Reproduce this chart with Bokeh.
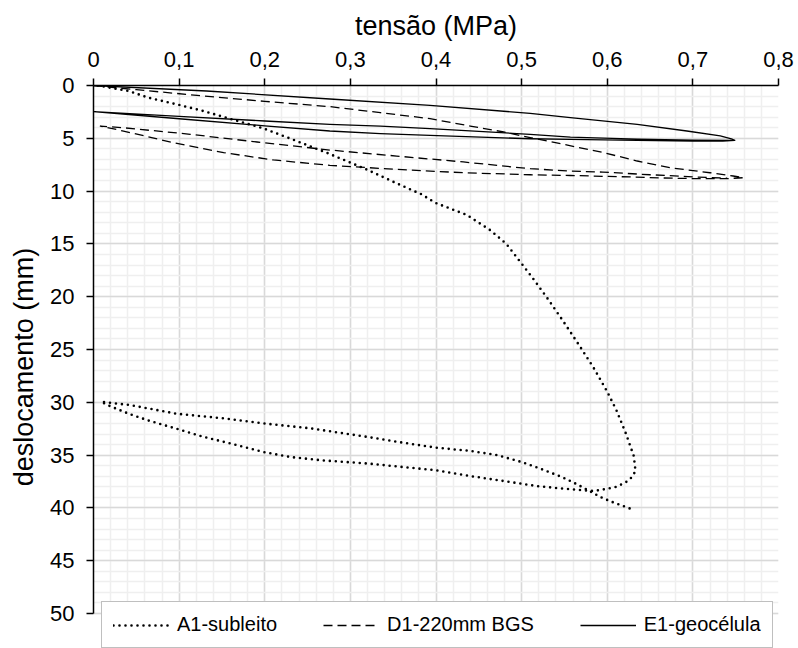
from bokeh.plotting import figure
from bokeh.models import (Range1d, SingleIntervalTicker, CustomJSTickFormatter,
                          Legend, LegendItem)
from bokeh.embed import file_html
from bokeh.resources import INLINE

# ---------------- data (tensão MPa, deslocamento mm) ----------------
a1_x = [0.005, 0.041, 0.064, 0.097, 0.128, 0.159, 0.198, 0.230, 0.274, 0.317,
        0.354, 0.383, 0.399, 0.436, 0.463, 0.482, 0.497, 0.512, 0.531, 0.549,
        0.567, 0.584, 0.600, 0.611, 0.622, 0.631, 0.633, 0.629, 0.623, 0.611,
        0.596, 0.584,
        0.549, 0.518, 0.479, 0.440, 0.401, 0.362, 0.321, 0.268, 0.230, 0.198,
        0.167, 0.128, 0.097, 0.066, 0.043, 0.019, 0.009,
        0.043, 0.097, 0.152, 0.198, 0.253, 0.321, 0.362, 0.401, 0.440, 0.471,
        0.500, 0.524, 0.547, 0.565, 0.578, 0.592, 0.603, 0.627]
a1_y = [0.0, 0.52, 1.15, 1.78, 2.41, 3.14, 4.05, 5.03, 6.42, 7.88,
        9.26, 10.3, 11.1, 12.26, 13.68, 14.98, 16.55, 18.13, 20.25, 22.37,
        24.57, 26.72, 29.0, 30.8, 33.0, 35.09, 36.5, 37.07, 37.5, 38.0,
        38.24, 38.4,
        38.18, 37.93, 37.45, 36.98, 36.44, 36.13, 35.8, 35.5, 35.18, 34.7,
        34.04, 33.26, 32.5, 31.77, 31.14, 30.35, 29.95,
        30.26, 31.08, 31.52, 31.99, 32.46, 33.29, 33.83, 34.3, 34.6, 34.99,
        35.65, 36.35, 37.07, 37.77, 38.34, 38.97, 39.35, 40.07]

d1_x = [0.0, 0.05, 0.13, 0.20, 0.276, 0.335, 0.393, 0.440, 0.479, 0.510,
        0.549, 0.596, 0.635, 0.673, 0.720, 0.747, 0.759,
        0.740, 0.705, 0.666, 0.627, 0.557, 0.510, 0.432, 0.354, 0.276,
        0.210, 0.152, 0.093, 0.035, 0.008,
        0.035, 0.113, 0.191, 0.276, 0.354, 0.432, 0.510, 0.557, 0.595,
        0.650, 0.700, 0.740]
d1_y = [0.0, 0.4, 1.0, 1.5, 2.0, 2.57, 3.14, 3.84, 4.4, 4.94,
        5.57, 6.36, 7.15, 7.78, 8.26, 8.57, 8.73,
        8.82, 8.82, 8.76, 8.66, 8.52, 8.45, 8.26, 7.94, 7.56,
        7.05, 6.36, 5.41, 4.31, 3.84,
        4.0, 4.62, 5.35, 6.11, 6.68, 7.24, 7.88, 8.1, 8.2,
        8.45, 8.65, 8.78]

e1_x = [0.0, 0.132, 0.276, 0.393, 0.510, 0.557, 0.635, 0.693, 0.732, 0.745,
        0.749,
        0.735, 0.700, 0.635, 0.557, 0.510, 0.393, 0.335, 0.276, 0.200,
        0.100, 0.0,
        0.100, 0.200, 0.276, 0.335, 0.393, 0.510, 0.557, 0.635, 0.700, 0.745]
e1_y = [0.0, 0.52, 1.28, 1.88, 2.64, 3.05, 3.68, 4.31, 4.78, 5.05,
        5.19,
        5.26, 5.26, 5.20, 5.10, 5.04, 4.72, 4.55, 4.31, 3.82,
        3.15, 2.48,
        2.92, 3.36, 3.68, 3.85, 4.09, 4.62, 4.88, 5.08, 5.18, 5.20]

labels = ["A1-subleito", "D1-220mm BGS", "E1-geocélula"]

FONT = "Liberation Sans"

# y range runs a little past 50 so the legend (which overlaps the bottom
# edge of the chart) is not clipped; axis and grid stop at 50.
p = figure(width=798, height=648, x_axis_location="above",
           output_backend="svg", toolbar_location=None,
           x_range=Range1d(0, 0.8), y_range=Range1d(53.31, 0),
           min_border_left=93, min_border_right=20,
           min_border_top=85, min_border_bottom=0)
p.outline_line_color = None
p.background_fill_color = "white"

p.xaxis.ticker = SingleIntervalTicker(interval=0.1, num_minor_ticks=5)
p.yaxis.ticker = SingleIntervalTicker(interval=5, num_minor_ticks=5)
p.xaxis.formatter = CustomJSTickFormatter(code="""
    if (Math.abs(tick) < 1e-9) { return '0'; }
    return tick.toFixed(1).replace('.', ',');
""")
p.yaxis.formatter = CustomJSTickFormatter(code="return tick.toFixed(0);")
p.yaxis.bounds = (0, 50)
p.xaxis.bounds = (0, 0.8)

for ax in (p.xaxis[0], p.yaxis[0]):
    ax.axis_line_color = "black"
    ax.axis_line_width = 1.5
    ax.major_tick_line_color = "black"
    ax.major_tick_line_width = 1.5
    ax.major_tick_out = 7
    ax.major_tick_in = 0
    ax.minor_tick_line_color = None
    ax.major_label_text_font = FONT
    ax.major_label_text_font_size = "22px"
    ax.major_label_text_color = "black"
    ax.major_label_standoff = 12
    ax.axis_label_text_font = FONT
    ax.axis_label_text_font_size = "27px"
    ax.axis_label_text_font_style = "normal"
    ax.axis_label_text_color = "black"
    ax.axis_label_standoff = 8

p.xaxis.axis_label = "tensão (MPa)"
p.yaxis.axis_label = "deslocamento (mm)"

for g in (p.xgrid[0], p.ygrid[0]):
    g.grid_line_color = "#d9d9d9"
    g.grid_line_width = 1.5
    g.minor_grid_line_color = "#efefef"
    g.minor_grid_line_width = 1.5
p.xgrid.bounds = (0, 0.8)
p.ygrid.bounds = (0, 50)

r1 = p.line(a1_x, a1_y, line_color="black", line_width=2.6,
            line_dash="0 6", line_cap="round", line_join="round")
r2 = p.line(d1_x, d1_y, line_color="black", line_width=1.3,
            line_dash="9 5", line_join="round")
r3 = p.line(e1_x, e1_y, line_color="black", line_width=1.3,
            line_join="round")

legend = Legend(
    items=[LegendItem(label=labels[0], renderers=[r1]),
           LegendItem(label=labels[1], renderers=[r2]),
           LegendItem(label=labels[2], renderers=[r3])],
    orientation="horizontal", location=(8, 0),
    padding=11, spacing=46, label_standoff=8, margin=0,
    glyph_width=56, glyph_height=20, label_height=20,
    label_text_font=FONT, label_text_font_size="20px",
    label_text_color="black",
    border_line_color="#808080", border_line_width=1,
    background_fill_color="white", background_fill_alpha=1.0)
p.add_layout(legend)

open("out.html", "w").write(file_html(p, INLINE))
